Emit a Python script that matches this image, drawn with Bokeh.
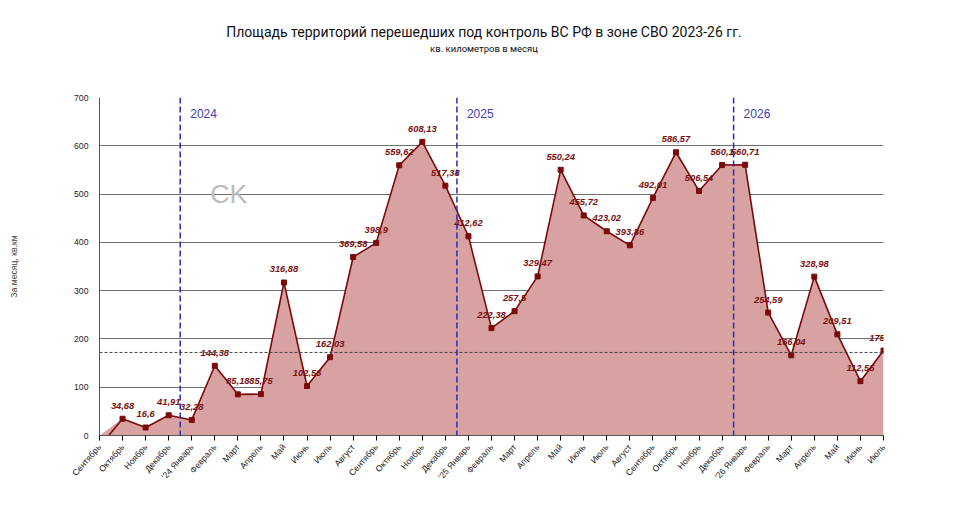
from bokeh.plotting import figure
from bokeh.models import ColumnDataSource, Span, Label, FixedTicker, Range1d, Div
from bokeh.layouts import column
from bokeh.embed import file_html
from bokeh.resources import INLINE

months = ["Сентябрь","Октябрь","Ноябрь","Декабрь","'24 Январь","Февраль","Март","Апрель","Май","Июнь","Июль","Август","Сентябрь","Октябрь","Ноябрь","Декабрь","'25 Январь","Февраль","Март","Апрель","Май","Июнь","Июль","Август","Сентябрь","Октябрь","Ноябрь","Декабрь","'26 Январь","Февраль","Март","Апрель","Май","Июнь","Июль"]
values = [0,34.68,16.6,41.91,32.28,144.38,85.18,85.75,316.88,102.56,162.03,369.58,398.9,559.62,608.13,517.38,412.62,222.38,257.5,329.47,550.24,455.72,423.02,393.86,492.01,586.57,506.54,560.1,560.71,254.59,166.04,328.98,209.51,112.55,175.91]
labels = ["","34,68","16,6","41,91","32,28","144,38","85,18","85,75","316,88","102,56","162,03","369,58","398,9","559,62","608,13","517,38","412,62","222,38","257,5","329,47","550,24","455,72","423,02","393,86","492,01","586,57","506,54","560,1","560,71","254,59","166,04","328,98","209,51","112,55","175,91"]
years = ["2024","2025","2026"]
year_pos = [3.5, 15.5, 27.5]
avg_line = 172
title = "Площадь территорий перешедших под контроль ВС РФ в зоне СВО 2023-26 гг."
subtitle = "кв. километров в месяц"

xs = list(range(len(months)))
p = figure(frame_width=784, frame_height=338, output_backend="svg", toolbar_location=None,
           x_range=Range1d(0, len(months)-1), y_range=Range1d(0, 700),
           min_border_left=99, min_border_right=82, min_border_top=8, min_border_bottom=10)
p.title = None
p.outline_line_color = None
p.varea(x=xs, y1=[0]*len(xs), y2=values, fill_color="#d8a2a2")
p.line(xs[1:], values[1:], line_color="#7a0a0a", line_width=1.6)
p.line([0.4, 1], [0, values[1]], line_color="#7a0a0a", line_width=1.6)
src = ColumnDataSource(dict(x=xs[1:], y=values[1:], t=labels[1:]))
p.scatter("x", "y", source=src, marker="square", size=5, color="#7a0a0a")
p.text("x", "y", text="t", source=src, text_align="center", text_baseline="bottom",
       y_offset=-10, text_font_size="7pt", text_font_style="bold italic", text_color="#7a1010")
for yv, pos in zip(years, year_pos):
    p.add_layout(Span(location=pos, dimension="height", line_color="#2a2ab0", line_dash="6 3", line_width=1.5))
    p.add_layout(Label(x=pos, y=658, text=yv, x_offset=10, text_color="#4040b0", text_font_size="9pt"))
p.add_layout(Span(location=avg_line, dimension="width", line_color="#444444", line_dash="3 2", line_width=1))
p.xgrid.grid_line_color = None
p.ygrid.grid_line_color = "#707070"
p.yaxis.ticker = FixedTicker(ticks=list(range(0, 701, 100)))
p.xaxis.ticker = FixedTicker(ticks=xs)
p.xaxis.major_label_overrides = {i: m for i, m in enumerate(months)}
p.xaxis.major_label_orientation = 0.85
p.xaxis.major_label_text_font_size = "6.5pt"
p.yaxis.major_label_text_font_size = "6.5pt"
p.axis.major_label_text_color = "#222222"
p.axis.axis_line_color = "#555555"
p.yaxis.major_tick_line_color = None
p.axis.minor_tick_line_color = None
p.xaxis.major_tick_out = 5
p.xaxis.major_tick_in = 0
p.yaxis.axis_label = "За месяц, кв.км"
p.yaxis.axis_label_text_font_size = "6.5pt"
p.yaxis.axis_label_text_font_style = "normal"
p.yaxis.axis_label_standoff = 52
p.add_layout(Label(x=4.8, y=470, text="CK", text_color="#bbbbbb", text_font_size="20pt"))

div = Div(width=958, height=79, text=(
    '<div style="width:958px;text-align:center;font-family:Roboto,sans-serif;color:#111;">'
    '<div style="padding-top:19px;font-size:14px;line-height:16px;">' + title + '</div>'
    '<div style="font-size:9.5px;line-height:12px;margin-top:3px;">' + subtitle + '</div></div>'))
layout = column(div, p, spacing=0)
open("out.html", "w").write(file_html(layout, INLINE))
